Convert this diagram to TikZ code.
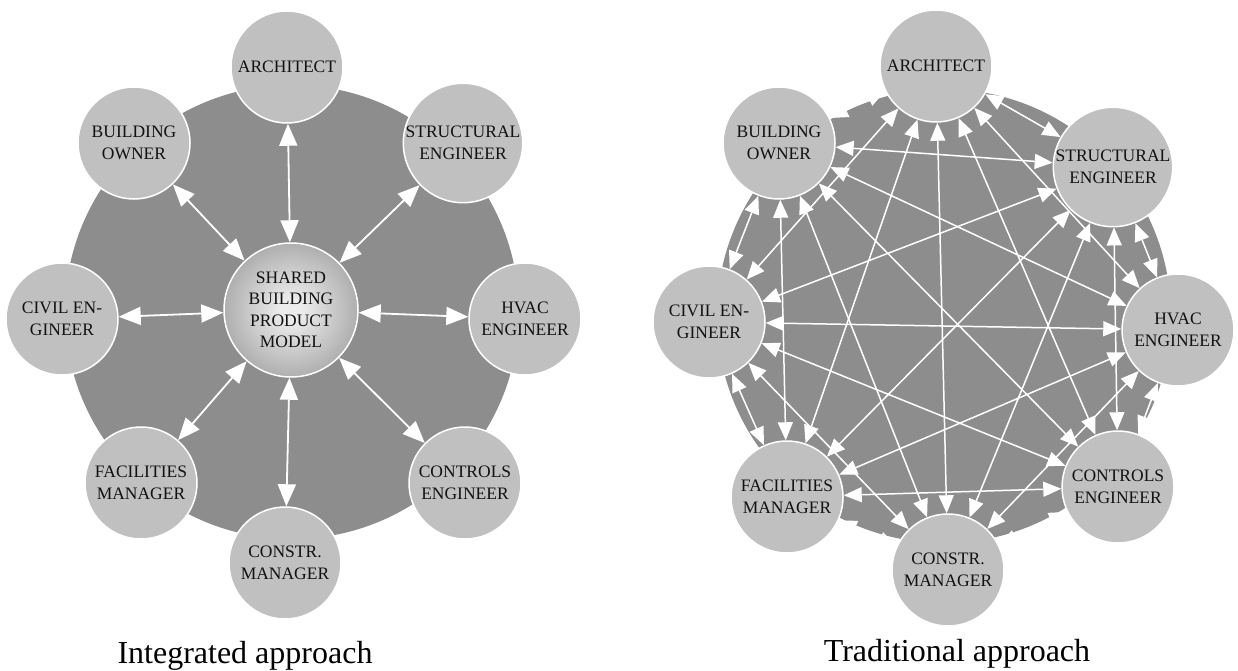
\documentclass[tikz,border=0pt]{standalone}
\usepackage{fontspec}
\setmainfont{Liberation Serif}
\usetikzlibrary{arrows.meta}
\definecolor{diskgray}{RGB}{141,141,141}
\definecolor{rolegray}{RGB}{192,192,192}
\definecolor{inkgray}{RGB}{18,18,18}
\definecolor{hubin}{RGB}{236,236,236}
\definecolor{hubmid}{RGB}{160,160,160}
\definecolor{hubout}{RGB}{95,95,95}
\pgfdeclareradialshading{hubball}{\pgfpoint{0bp}{0bp}}{color(0bp)=(hubin); color(4bp)=(hubin); color(30bp)=(hubmid); color(50bp)=(hubout)}
\begin{document}
\begin{tikzpicture}[x=1pt,y=-1pt]
\tikzstyle{Disk} = [shape=circle, fill=diskgray, inner sep=0, minimum size=454]
\tikzstyle{Role} = [draw=white, fill=rolegray, shape=circle, line width=1.5, minimum size=112, inner sep=0, text=inkgray, align=center, font={\fontsize{17.5}{21.5}\selectfont}]
\tikzstyle{Hub} = [draw=white, shade, shading=hubball, shape=circle, line width=1.5, minimum size=134, inner sep=0, text=inkgray, align=center, font={\fontsize{17.5}{21.5}\selectfont}]
\tikzstyle{Link} = [white, line width=1.8, {Triangle[length=22pt,width=18pt]}-{Triangle[length=22pt,width=18pt]}]
\tikzstyle{Thin} = [white, line width=1.5, {Triangle[length=18pt,width=15pt]}-{Triangle[length=18pt,width=15pt]}]
\tikzstyle{Caption} = [anchor=base, text=black, font={\fontsize{32}{38}\selectfont}]
\useasboundingbox (0,0) rectangle (1238,671);
\node [Disk] (d1) at (292,312) {};
\node [Disk] (d2) at (944,316) {};
\node [Role] (v1) at (287,67) {ARCHITECT};
\node [Role] (v2) at (463,143) {STRUCTURAL\\ENGINEER};
\node [Role] (v3) at (525,319) {HVAC\\ENGINEER};
\node [Role] (v4) at (465,483) {CONTROLS\\ENGINEER};
\node [Role] (v5) at (285,563) {CONSTR.\\MANAGER};
\node [Role] (v6) at (141,483) {FACILITIES\\MANAGER};
\node [Role] (v7) at (62,319) {CIVIL EN-\\GINEER};
\node [Role] (v8) at (134,143) {BUILDING\\OWNER};
\node [Hub] (v9) at (291,310) {SHARED\\BUILDING\\PRODUCT\\MODEL};
\node [Role] (w1) at (936,66) {ARCHITECT};
\node [Role] (w2) at (1113,167) {STRUCTURAL\\ENGINEER};
\node [Role] (w3) at (1178,330) {HVAC\\ENGINEER};
\node [Role] (w4) at (1118,487) {CONTROLS\\ENGINEER};
\node [Role] (w5) at (948,570) {CONSTR.\\MANAGER};
\node [Role] (w6) at (787,497) {FACILITIES\\MANAGER};
\node [Role] (w7) at (709,322) {CIVIL EN-\\GINEER};
\node [Role] (w8) at (779,143) {BUILDING\\OWNER};
\node [Caption] (c1) at (245,663) {Integrated approach};
\node [Caption] (c2) at (957,661) {Traditional approach};
\draw [Link] (v9) edge (v1);
\draw [Link] (v9) edge (v2);
\draw [Link] (v9) edge (v3);
\draw [Link] (v9) edge (v4);
\draw [Link] (v9) edge (v5);
\draw [Link] (v9) edge (v6);
\draw [Link] (v9) edge (v7);
\draw [Link] (v9) edge (v8);
\draw [Thin] (w1) edge (w2) edge (w3) edge (w4) edge (w5) edge (w6) edge (w7) edge (w8);
\draw [Thin] (w2) edge (w3) edge (w4) edge (w5) edge (w6) edge (w7) edge (w8);
\draw [Thin] (w3) edge (w4) edge (w5) edge (w6) edge (w7) edge (w8);
\draw [Thin] (w4) edge (w5) edge (w6) edge (w7) edge (w8);
\draw [Thin] (w5) edge (w6) edge (w7) edge (w8);
\draw [Thin] (w6) edge (w7) edge (w8);
\draw [Thin] (w7) edge (w8);
\end{tikzpicture}
\end{document}
